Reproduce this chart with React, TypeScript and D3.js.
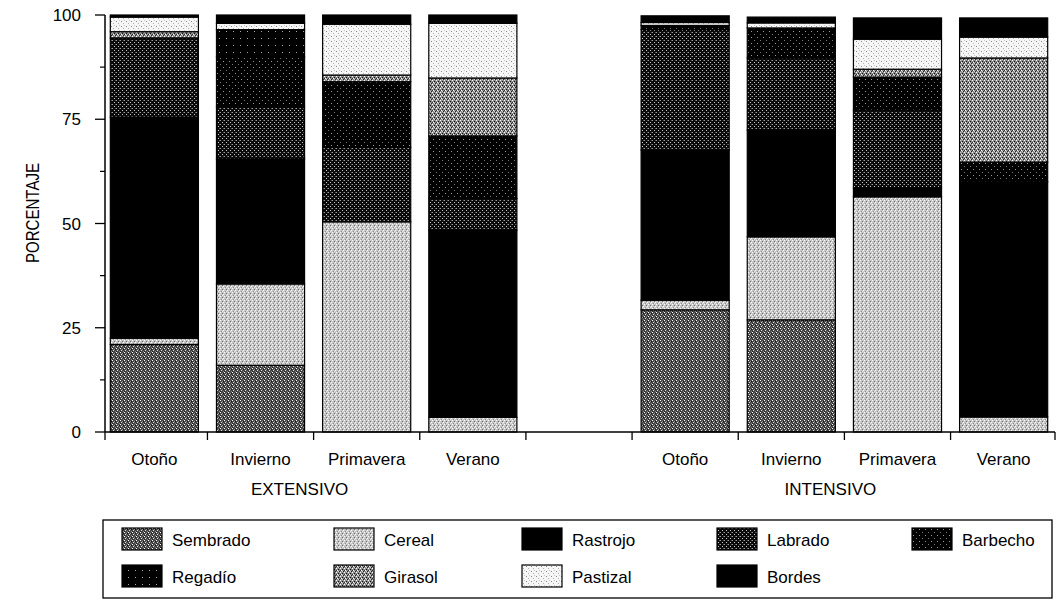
import React from "react";
import * as d3 from "d3";

// ---- data ----
const CATEGORIES = ["Sembrado", "Cereal", "Rastrojo", "Labrado", "Barbecho", "Regadío", "Girasol", "Pastizal", "Bordes"];
const SEASONS = ["Otoño", "Invierno", "Primavera", "Verano"];
const GROUPS = ["EXTENSIVO", "INTENSIVO"];
const Y_TICKS = [0, 25, 50, 75, 100];

// order of bars: EXTENSIVO Otoño..Verano, INTENSIVO Otoño..Verano
const Sembrado = [21, 16, 0, 0, 29.3, 26.9, 0, 0];
const Cereal = [1.5, 19.5, 50.4, 3.5, 2.3, 19.9, 56.4, 3.6];
const Rastrojo = [53, 30, 0, 44.9, 36, 25.6, 2.1, 56.4];
const Labrado = [19, 12.5, 17.9, 7.6, 28.9, 17.3, 18.7, 0];
const Barbecho = [0, 12, 15.7, 15, 1, 7.2, 7.9, 4.7];
const Regadio = [0, 6.5, 0, 0, 0, 0, 0, 0];
const Girasol = [1.5, 0, 1.6, 13.9, 0, 0, 1.9, 25];
const Pastizal = [3.5, 1.5, 12.2, 13.1, 0.7, 1.2, 7.2, 5];
const Bordes = [0.5, 2, 2.2, 2, 1.6, 1.4, 5.1, 4.6];

const SERIES: Record<string, number[]> = {
  Sembrado, Cereal, Rastrojo, Labrado, Barbecho, "Regadío": Regadio, Girasol, Pastizal, Bordes,
};

// ---- styles (halftone-like patterns) ----
type Pat = { base: string; size: number; dots: [number, number, string][] };
const PATTERNS: Record<string, Pat> = {
  Sembrado: { base: "#474747", size: 4, dots: [[0, 0, "#ffffff"], [2, 1, "#9a9a9a"], [1, 2, "#e0e0e0"], [3, 3, "#8a8a8a"], [3, 1, "#111"], [0, 3, "#222"]] },
  Cereal: { base: "#c4c4c4", size: 4, dots: [[0, 0, "#ffffff"], [2, 1, "#6e6e6e"], [1, 3, "#8a8a8a"], [3, 2, "#ffffff"], [2, 3, "#e8e8e8"]] },
  Rastrojo: { base: "#000000", size: 4, dots: [] },
  Labrado: { base: "#0a0a0a", size: 4, dots: [[0, 0, "#9a9a9a"], [2, 2, "#cfcfcf"], [3, 0, "#555"]] },
  Barbecho: { base: "#000000", size: 6, dots: [[1, 1, "#9a9a9a"], [4, 4, "#777"]] },
  "Regadío": { base: "#000000", size: 7, dots: [[2, 3, "#aaaaaa"]] },
  Girasol: { base: "#8c8c8c", size: 4, dots: [[0, 0, "#ffffff"], [2, 1, "#111"], [1, 2, "#ffffff"], [3, 3, "#222"], [2, 3, "#d0d0d0"], [0, 2, "#333"]] },
  Pastizal: { base: "#f6f6f6", size: 5, dots: [[1, 1, "#8a8a8a"], [3, 3, "#b0b0b0"], [4, 0, "#c8c8c8"]] },
  Bordes: { base: "#000000", size: 4, dots: [] },
};

const W = 1060;
const H = 603;
const FONT = "'Liberation Sans', Arial, Helvetica, sans-serif";

const slotKeys = [
  ...SEASONS.map((s) => `E-${s}`),
  "gap",
  ...SEASONS.map((s) => `I-${s}`),
];
const barKeys = slotKeys.filter((k) => k !== "gap");

export default function App() {
  const x = d3.scaleBand<string>().domain(slotKeys).range([105, 1053]).paddingInner(0.17).paddingOuter(0.05);
  const y = d3.scaleLinear().domain([0, 100]).range([432, 15]);

  const rows = barKeys.map((k, i) => {
    const r: any = { key: k };
    CATEGORIES.forEach((c) => (r[c] = SERIES[c][i]));
    return r;
  });
  const stacked = d3.stack<any>().keys(CATEGORIES)(rows);

  const step = x.step();
  const gapHalf = (step - x.bandwidth()) / 2;
  const tickXs = [105, ...slotKeys.slice(1).map((k) => (x(k) as number) - gapHalf), 1055];

  const minorTicks = d3.range(12.5, 100, 25);

  const groupCenter = (prefix: string) => {
    const ks = barKeys.filter((k) => k.startsWith(prefix));
    const a = (x(ks[1]) as number) + x.bandwidth();
    const b = x(ks[2]) as number;
    return (a + b) / 2 - 14;
  };

  const legendCols = [122, 334, 522, 717, 912];

  return (
    <svg width={W} height={H} style={{ position: "absolute", left: 0, top: 0, background: "#fff" }} fontFamily={FONT}>
      <defs>
        {CATEGORIES.map((c, i) => {
          const p = PATTERNS[c];
          return (
            <pattern key={c} id={`pat${i}`} width={p.size} height={p.size} patternUnits="userSpaceOnUse">
              <rect width={p.size} height={p.size} fill={p.base} />
              {p.dots.map(([dx, dy, col], j) => (
                <rect key={j} x={dx} y={dy} width={1} height={1} fill={col} />
              ))}
            </pattern>
          );
        })}
      </defs>

      {/* bars */}
      {stacked.map((s, si) => (
        <g key={s.key}>
          {s.map((d, di) =>
            d[1] - d[0] > 0 ? (
              <rect
                key={di}
                x={x(barKeys[di])}
                y={y(d[1])}
                width={x.bandwidth()}
                height={y(d[0]) - y(d[1])}
                fill={`url(#pat${si})`}
                stroke="#000"
                strokeWidth={1.2}
              />
            ) : null
          )}
        </g>
      ))}

      {/* y axis */}
      <line x1={105} x2={105} y1={y(100)} y2={y(0)} stroke="#000" strokeWidth={1.5} />
      {Y_TICKS.map((t) => (
        <g key={t}>
          <line x1={95} x2={105} y1={y(t)} y2={y(t)} stroke="#000" strokeWidth={1.3} />
          <text x={81} y={y(t) + 6} textAnchor="end" fontSize={17}>{t}</text>
        </g>
      ))}
      {minorTicks.map((t) => (
        <line key={t} x1={100} x2={105} y1={y(t)} y2={y(t)} stroke="#000" strokeWidth={1.2} />
      ))}
      <text
        transform={`translate(38.5,${213}) rotate(-90)`}
        textAnchor="middle"
        fontSize={19}
        textLength={100}
        lengthAdjust="spacingAndGlyphs"
      >
        PORCENTAJE
      </text>

      {/* x axis */}
      <line x1={105} x2={1055} y1={y(0)} y2={y(0)} stroke="#000" strokeWidth={1.5} />
      {tickXs.map((tx, i) => (
        <line key={i} x1={tx} x2={tx} y1={y(0)} y2={y(0) + 8} stroke="#000" strokeWidth={1.3} />
      ))}
      {barKeys.map((k) => (
        <text key={k} x={(x(k) as number) + x.bandwidth() / 2} y={465} textAnchor="middle" fontSize={17}>
          {k.slice(2)}
        </text>
      ))}
      <text x={groupCenter("E-")} y={495} textAnchor="middle" fontSize={17}>{GROUPS[0]}</text>
      <text x={groupCenter("I-")} y={495} textAnchor="middle" fontSize={17}>{GROUPS[1]}</text>

      {/* legend */}
      <rect x={103} y={520} width={949} height={78} fill="none" stroke="#000" strokeWidth={1.3} />
      {CATEGORIES.map((c, i) => {
        const row = Math.floor(i / 5);
        const col = i % 5;
        const lx = legendCols[col];
        const ly = row === 0 ? 528 : 565;
        return (
          <g key={c}>
            <rect x={lx} y={ly} width={40} height={22} fill={`url(#pat${i})`} stroke="#000" strokeWidth={1.2} />
            <text x={lx + 50} y={ly + 18} fontSize={17}>{c}</text>
          </g>
        );
      })}
    </svg>
  );
}
